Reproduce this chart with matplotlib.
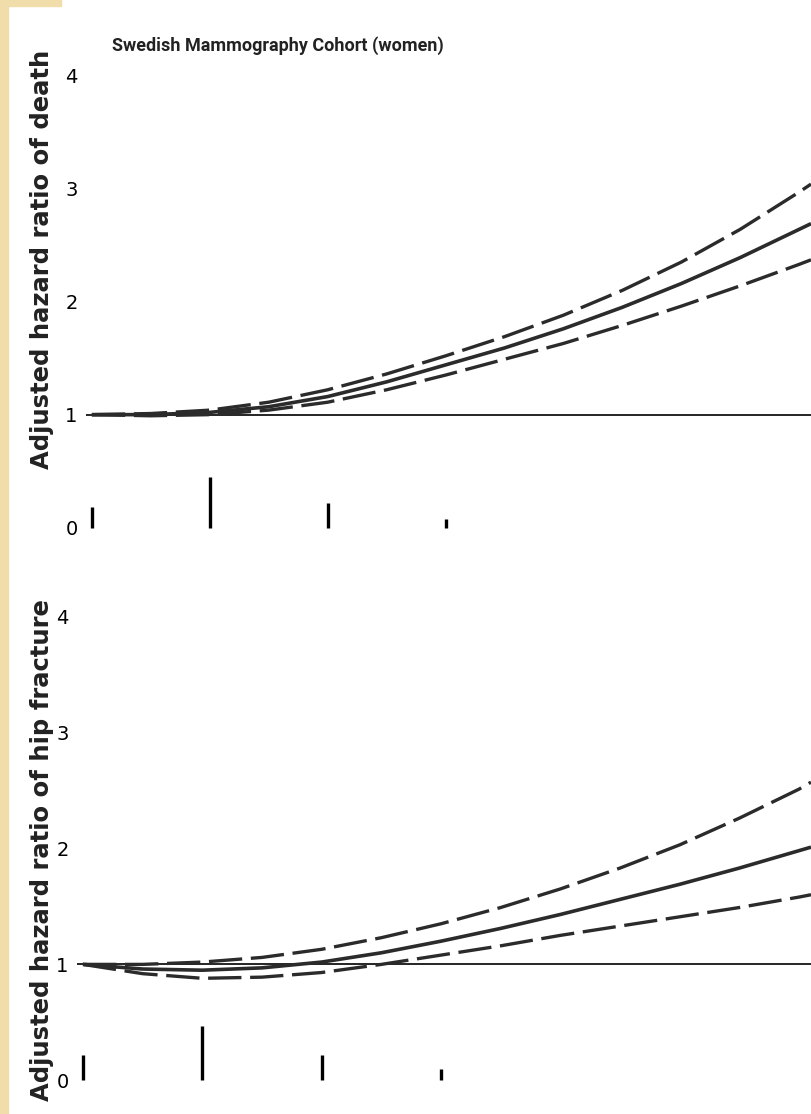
import numpy as np
import matplotlib
matplotlib.use('Agg')
import matplotlib.pyplot as plt
from matplotlib.patches import Rectangle

matplotlib.rcParams.update({'font.size': 14, 'font.family': ['DejaVu Sans']})

# intake levels (x units)
x = [0, 0.5, 1, 1.5, 2, 2.5, 3, 3.5, 4, 4.5, 5, 5.5, 6, 6.1]

# top panel: death
death_hr = [1.00, 1.00, 1.02, 1.07, 1.16, 1.29, 1.44, 1.59, 1.76, 1.95, 2.16, 2.39, 2.64, 2.69]
death_hi = [1.00, 1.01, 1.04, 1.11, 1.22, 1.36, 1.52, 1.69, 1.88, 2.10, 2.35, 2.64, 2.97, 3.04]
death_lo = [1.00, 0.99, 1.00, 1.04, 1.11, 1.22, 1.35, 1.49, 1.63, 1.79, 1.96, 2.14, 2.33, 2.37]

# bottom panel: hip fracture
hip_hr = [1.00, 0.96, 0.95, 0.97, 1.02, 1.10, 1.20, 1.31, 1.43, 1.56, 1.69, 1.83, 1.98, 2.01]
hip_hi = [1.00, 1.00, 1.02, 1.06, 1.13, 1.23, 1.35, 1.49, 1.65, 1.83, 2.03, 2.26, 2.51, 2.57]
hip_lo = [1.00, 0.92, 0.88, 0.89, 0.93, 1.00, 1.08, 1.16, 1.25, 1.33, 1.41, 1.49, 1.58, 1.60]

# distribution bars along the bottom
rug_x = [0, 1, 2, 3]
rug_death = [0.18, 0.45, 0.22, 0.08]
rug_hip = [0.22, 0.47, 0.22, 0.10]

title = 'Swedish Mammography Cohort (women)'
ylab_top = 'Adjusted hazard ratio of death'
ylab_bot = 'Adjusted hazard ratio of hip fracture'

fig = plt.figure(figsize=(8.11, 11.14), dpi=100)
ax1 = fig.add_axes([0.106, 0.5162, 0.894, 0.4362])
ax2 = fig.add_axes([0.095, 0.0197, 0.905, 0.448])

ink = '#2b2b2b'
panels = [(ax1, death_hr, death_hi, death_lo, rug_death),
          (ax2, hip_hr, hip_hi, hip_lo, rug_hip)]
for ax, hr, hi, lo, rug in panels:
    ax.axhline(1, color='black', lw=1.2, zorder=2)
    ax.plot(x, hr, color=ink, lw=2.6, solid_capstyle='butt', zorder=3)
    ax.plot(x, hi, color=ink, lw=2.4, ls=(0, (10, 2.6)), zorder=3)
    ax.plot(x, lo, color=ink, lw=2.4, ls=(0, (10, 2.6)), zorder=3)
    ax.vlines(rug_x, 0, rug, color='black', lw=2.4)
    ax.set_xlim(-0.05, 6.1)
    ax.set_ylim(-0.1, 4.2)
    ax.set_yticks([0, 1, 2, 3, 4])
    ax.tick_params(axis='y', length=0, pad=6, labelsize=14)
    ax.set_xticks([])
    for s in ax.spines.values():
        s.set_visible(False)
    ax.patch.set_alpha(0)

fig.text(0.052, 0.767, ylab_top, rotation=90, ha='center', va='center',
         fontsize=17.5, fontweight='bold', color='#222222')
fig.text(0.052, 0.237, ylab_bot, rotation=90, ha='center', va='center',
         fontsize=17.5, fontweight='bold', color='#222222')
fig.text(0.138, 0.959, title, ha='left', va='center', fontsize=13,
         fontweight='bold', color='#222222', family='Roboto')

# beige strip on the left edge of the scan
fig.patches.append(Rectangle((0, 0), 0.01, 1, transform=fig.transFigure,
                             color='#f0dda9', zorder=0))
fig.patches.append(Rectangle((0, 0.995), 0.075, 0.005, transform=fig.transFigure,
                             color='#f0dda9', zorder=0))

fig.savefig('out.png', dpi=100)
